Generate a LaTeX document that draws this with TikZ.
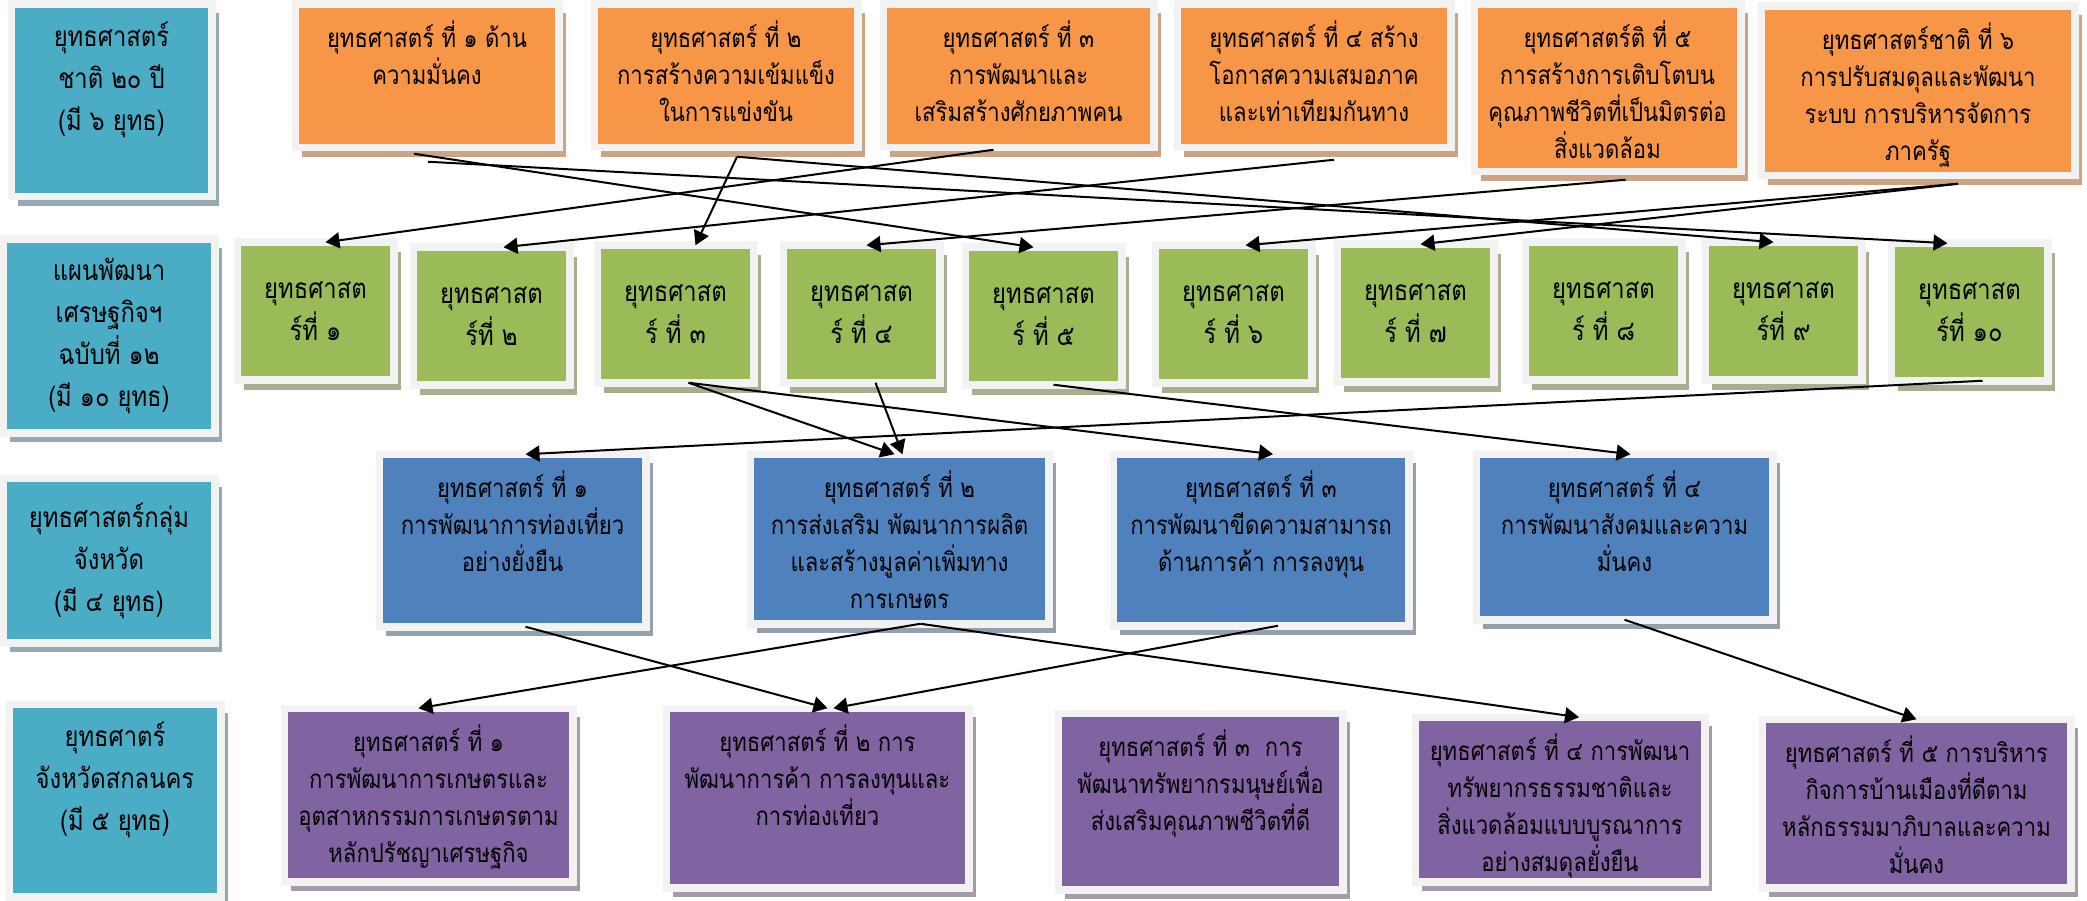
\documentclass[tikz,border=0pt]{standalone}
\usepackage{fontspec}
\newfontfamily\thaifont[Script=Thai, FakeStretch=0.85]{Loma}
\usetikzlibrary{arrows.meta, shadows}

\definecolor{framegrey}{HTML}{F2F2F2}
\definecolor{tealfill}{HTML}{4BACC6}
\definecolor{tealshade}{HTML}{93A9B3}
\definecolor{orangefill}{HTML}{F79646}
\definecolor{orangeshade}{HTML}{CDA483}
\definecolor{greenfill}{HTML}{9BBB59}
\definecolor{greenshade}{HTML}{A6AF8F}
\definecolor{bluefill}{HTML}{4F81BD}
\definecolor{blueshade}{HTML}{95A0AE}
\definecolor{purplefill}{HTML}{8064A2}
\definecolor{purpleshade}{HTML}{A59CAB}

\newcommand{\bigthai}{\thaifont\fontsize{28}{42}\selectfont}
\newcommand{\smallthai}{\thaifont\fontsize{26}{37}\selectfont}

\tikzstyle{frame} = [rectangle, draw=framegrey, line width=7.5pt, inner sep=0pt, outer sep=0pt]
\tikzstyle{rowlabel} = [frame, fill=tealfill, align=center, font=\bigthai, drop shadow={shadow xshift=7pt, shadow yshift=-9pt, fill=tealshade, opacity=1}]
\tikzstyle{natbox} = [frame, fill=orangefill, drop shadow={shadow xshift=7pt, shadow yshift=-9pt, fill=orangeshade, opacity=1}]
\tikzstyle{planbox} = [frame, fill=greenfill, align=center, font=\bigthai, minimum width=156.5pt, minimum height=137.5pt, drop shadow={shadow xshift=7pt, shadow yshift=-10pt, fill=greenshade, opacity=1}]
\tikzstyle{groupbox} = [frame, fill=bluefill, drop shadow={shadow xshift=7pt, shadow yshift=-9pt, fill=blueshade, opacity=1}]
\tikzstyle{provbox} = [frame, fill=purplefill, drop shadow={shadow xshift=7pt, shadow yshift=-9pt, fill=purpleshade, opacity=1}]
\tikzstyle{boxtext} = [align=center, font=\smallthai, anchor=north, yshift=-16pt, inner sep=0pt, execute at begin node=\strut]
\tikzstyle{labeltext} = [boxtext, font=\bigthai, yshift=-1pt]
\tikzstyle{arrow} = [line width=2pt, -{Triangle[length=14pt, width=16pt]}]

\begin{document}
\begin{tikzpicture}[x=1pt, y=-1pt]
    \useasboundingbox (0,0) rectangle (2087,901);

    %row labels
    \node (lab1) [rowlabel, minimum width=200.5pt, minimum height=192.5pt, label={[labeltext]north:{ยุทธศาสตร์\\ชาติ ๒๐ ปี\\(มี ๖ ยุทธ)}}] at (111.5,100.5) {};
    \node (lab2) [rowlabel, minimum width=211.5pt, minimum height=193.5pt] at (109,336) {แผนพัฒนา\\เศรษฐกิจฯ\\ฉบับที่ ๑๒\\(มี ๑๐ ยุทธ)};
    \node (lab3) [rowlabel, minimum width=211.5pt, minimum height=164.5pt] at (109,560.5) {ยุทธศาสตร์กลุ่ม\\จังหวัด\\(มี ๔ ยุทธ)};
    \node (lab4) [rowlabel, minimum width=211.5pt, minimum height=192.5pt, label={[labeltext]north:{ยุทธศาตร์\\จังหวัดสกลนคร\\(มี ๕ ยุทธ)}}] at (115,800.5) {};

    %national strategy
    \node (o1) [natbox, minimum width=263.5pt, minimum height=143.5pt, label={[boxtext]north:{ยุทธศาสตร์ ที่ ๑ ด้าน\\ความมั่นคง}}] at (427,76) {};
    \node (o2) [natbox, minimum width=263.5pt, minimum height=143.5pt, label={[boxtext]north:{ยุทธศาสตร์ ที่ ๒\\การสร้างความเข้มแข็ง\\ในการแข่งขัน}}] at (726,76) {};
    \node (o3) [natbox, minimum width=270.5pt, minimum height=143.5pt, label={[boxtext]north:{ยุทธศาสตร์ ที่ ๓\\การพัฒนาและ\\เสริมสร้างศักยภาพคน}}] at (1018.5,76) {};
    \node (o4) [natbox, minimum width=273.5pt, minimum height=143.5pt, label={[boxtext]north:{ยุทธศาสตร์ ที่ ๔ สร้าง\\โอกาสความเสมอภาค\\และเท่าเทียมกันทาง}}] at (1314,76) {};
    \node (o5) [natbox, minimum width=266.5pt, minimum height=167.5pt, label={[boxtext]north:{ยุทธศาสตร์ติ ที่ ๕\\การสร้างการเติบโตบน\\คุณภาพชีวิตที่เป็นมิตรต่อ\\สิ่งแวดล้อม}}] at (1607.5,88) {};
    \node (o6) [natbox, minimum width=313.5pt, minimum height=169.5pt, label={[boxtext]north:{ยุทธศาสตร์ชาติ ที่ ๖\\การปรับสมดุลและพัฒนา\\ระบบ การบริหารจัดการ\\ภาครัฐ}}] at (1918,91) {};

    %development plan
    \node (g1) [planbox] at (315.5,311) {ยุทธศาสต\\ร์ที่ ๑};
    \node (g2) [planbox] at (491.5,316) {ยุทธศาสต\\ร์ที่ ๒};
    \node (g3) [planbox] at (675.5,314) {ยุทธศาสต\\ร์ ที่ ๓};
    \node (g4) [planbox] at (861.5,314) {ยุทธศาสต\\ร์ ที่ ๔};
    \node (g5) [planbox] at (1043.5,316) {ยุทธศาสต\\ร์ ที่ ๕};
    \node (g6) [planbox] at (1233.5,314) {ยุทธศาสต\\ร์ ที่ ๖};
    \node (g7) [planbox] at (1415.5,313) {ยุทธศาสต\\ร์ ที่ ๗};
    \node (g8) [planbox] at (1603.5,311) {ยุทธศาสต\\ร์ ที่ ๘};
    \node (g9) [planbox] at (1783.5,311) {ยุทธศาสต\\ร์ที่ ๙};
    \node (g10) [planbox] at (1969.5,312) {ยุทธศาสต\\ร์ที่ ๑๐};

    %province group
    \node (b1) [groupbox, minimum width=266.5pt, minimum height=172.5pt, label={[boxtext]north:{ยุทธศาสตร์ ที่ ๑\\การพัฒนาการท่องเที่ยว\\อย่างยั่งยืน}}] at (512.5,540.5) {};
    \node (b2) [groupbox, minimum width=298.5pt, minimum height=169.5pt, label={[boxtext]north:{ยุทธศาสตร์ ที่ ๒\\การส่งเสริม พัฒนาการผลิต\\และสร้างมูลค่าเพิ่มทาง\\การเกษตร}}] at (899.5,539) {};
    \node (b3) [groupbox, minimum width=295.5pt, minimum height=171.5pt, label={[boxtext]north:{ยุทธศาสตร์ ที่ ๓\\การพัฒนาขีดความสามารถ\\ด้านการค้า การลงทุน}}] at (1261,540) {};
    \node (b4) [groupbox, minimum width=296.5pt, minimum height=165.5pt, label={[boxtext]north:{ยุทธศาสตร์ ที่ ๔\\การพัฒนาสังคมและความ\\มั่นคง}}] at (1624.5,537) {};

    %province
    \node (p1) [provbox, minimum width=288.5pt, minimum height=173.5pt, label={[boxtext]north:{ยุทธศาสตร์ ที่ ๑\\การพัฒนาการเกษตรและ\\อุตสาหกรรมการเกษตรตาม\\หลักปรัชญาเศรษฐกิจ}}] at (428.5,795) {};
    \node (p2) [provbox, minimum width=302.5pt, minimum height=179.5pt, label={[boxtext]north:{ยุทธศาสตร์ ที่ ๒ การ\\พัฒนาการค้า การลงทุนและ\\การท่องเที่ยว}}] at (817.5,798) {};
    \node (p3) [provbox, minimum width=284.5pt, minimum height=176.5pt, label={[boxtext]north:{ยุทธศาสตร์ ที่ ๓~~การ\\พัฒนาทรัพยากรมนุษย์เพื่อ\\ส่งเสริมคุณภาพชีวิตที่ดี}}] at (1200.5,801.5) {};
    \node (p4) [provbox, minimum width=289.5pt, minimum height=164.5pt, label={[boxtext]north:{ยุทธศาสตร์ ที่ ๔ การพัฒนา\\ทรัพยากรธรรมชาติและ\\สิ่งแวดล้อมแบบบูรณาการ\\อย่างสมดุลยั่งยืน}}] at (1560,799.5) {};
    \node (p5) [provbox, minimum width=308.5pt, minimum height=168.5pt, label={[boxtext]north:{ยุทธศาสตร์ ที่ ๕ การบริหาร\\กิจการบ้านเมืองที่ดีตาม\\หลักธรรมมาภิบาลและความ\\มั่นคง}}] at (1916.5,803.5) {};

    %arrows
    \draw [arrow] ([xshift=-13pt,yshift=-6pt]o1.south) -- ([xshift=-10pt]g5.north);
    \draw [arrow] ([xshift=1pt,yshift=-14pt]o1.south) -- ([xshift=-22pt]g10.north);
    \draw [arrow] ([xshift=11pt,yshift=-9pt]o2.south) -- ([xshift=20pt]g3.north);
    \draw [arrow] ([xshift=11pt,yshift=-9pt]o2.south) -- ([xshift=-10pt]g9.north);
    \draw [arrow] ([xshift=-25pt,yshift=-2pt]o3.south) -- ([xshift=10pt]g1.north);
    \draw [arrow] ([xshift=20pt,yshift=-12pt]o4.south) -- ([xshift=12pt]g2.north);
    \draw [arrow] ([xshift=18pt,yshift=-8pt]o5.south) -- ([xshift=5pt]g4.north);
    \draw [arrow] ([xshift=40pt,yshift=-8pt]o6.south) -- ([xshift=12pt]g6.north);
    \draw [arrow] ([xshift=40pt,yshift=-8pt]o6.south) -- ([xshift=5pt]g7.north);

    \draw [arrow] ([xshift=13pt]g3.south) -- ([xshift=-5pt]b2.north);
    \draw [arrow] ([xshift=13pt]g3.south) -- ([xshift=12pt]b3.north);
    \draw [arrow] ([xshift=14pt]g4.south) -- ([xshift=3pt]b2.north);
    \draw [arrow] ([xshift=10pt]g5.south) -- ([xshift=6pt]b4.north);
    \draw [arrow] ([xshift=13pt]g10.south) -- ([xshift=13pt]b1.north);

    \draw [arrow] ([xshift=13pt]b1.south) -- ([xshift=10pt]p2.north);
    \draw [arrow] ([xshift=21pt]b2.south) -- ([xshift=-10pt]p1.north);
    \draw [arrow] ([xshift=21pt]b2.south) -- ([xshift=19pt]p4.north);
    \draw [arrow] ([xshift=17pt]b3.south) -- ([xshift=16pt]p2.north);
    \draw [arrow] (b4.south) -- (p5.north);

\end{tikzpicture}
\end{document}
